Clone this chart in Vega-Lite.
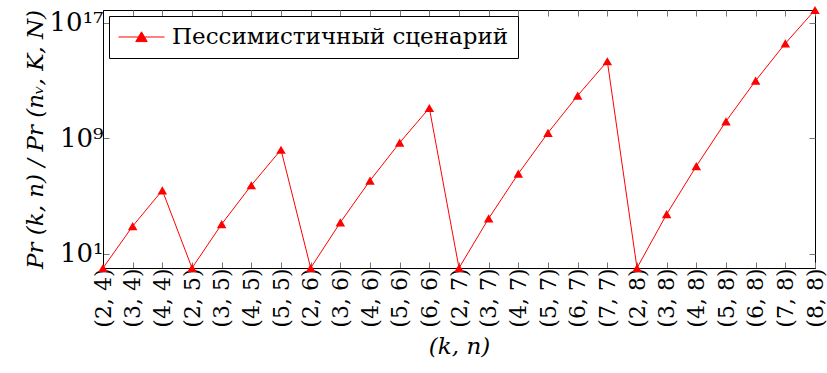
{
  "$schema": "https://vega.github.io/schema/vega-lite/v6.json",
  "width": 712,
  "height": 258,
  "autosize": {"type": "none"},
  "padding": {"left": 103, "top": 10, "right": 12, "bottom": 105},
  "config": {
    "view": {"stroke": "black", "strokeWidth": 1},
    "font": "DejaVu Serif",
    "axis": {"grid": false, "domainColor": "black", "tickColor": "#777777", "labelColor": "black", "titleColor": "black", "labelFont": "DejaVu Serif", "titleFont": "DejaVu Serif", "titleFontWeight": "normal", "tickSize": -6},
    "axisBottom": {"labelFontSize": 22, "labelAngle": 270, "labelPadding": 6, "titleFontSize": 23, "titleFontStyle": "italic", "titlePadding": 8},
    "axisLeft": {"labelFontSize": 26, "labelPadding": 6, "titleFontSize": 23, "titleFontStyle": "italic", "titlePadding": 2},
    "legend": {"labelFont": "DejaVu Serif", "labelFontSize": 23, "labelLimit": 0}
  },
  "data": {
    "values": [
      {"kn": "(2, 4)", "v": 1, "s": "Пессимистичный сценарий"},
      {"kn": "(3, 4)", "v": 794, "s": "Пессимистичный сценарий"},
      {"kn": "(4, 4)", "v": 245000, "s": "Пессимистичный сценарий"},
      {"kn": "(2, 5)", "v": 1, "s": "Пессимистичный сценарий"},
      {"kn": "(3, 5)", "v": 1100, "s": "Пессимистичный сценарий"},
      {"kn": "(4, 5)", "v": 550000, "s": "Пессимистичный сценарий"},
      {"kn": "(5, 5)", "v": 160000000, "s": "Пессимистичный сценарий"},
      {"kn": "(2, 6)", "v": 1, "s": "Пессимистичный сценарий"},
      {"kn": "(3, 6)", "v": 1450, "s": "Пессимистичный сценарий"},
      {"kn": "(4, 6)", "v": 1150000, "s": "Пессимистичный сценарий"},
      {"kn": "(5, 6)", "v": 490000000, "s": "Пессимистичный сценарий"},
      {"kn": "(6, 6)", "v": 126000000000, "s": "Пессимистичный сценарий"},
      {"kn": "(2, 7)", "v": 1, "s": "Пессимистичный сценарий"},
      {"kn": "(3, 7)", "v": 2750, "s": "Пессимистичный сценарий"},
      {"kn": "(4, 7)", "v": 3500000, "s": "Пессимистичный сценарий"},
      {"kn": "(5, 7)", "v": 2400000000, "s": "Пессимистичный сценарий"},
      {"kn": "(6, 7)", "v": 910000000000, "s": "Пессимистичный сценарий"},
      {"kn": "(7, 7)", "v": 220000000000000, "s": "Пессимистичный сценарий"},
      {"kn": "(2, 8)", "v": 1, "s": "Пессимистичный сценарий"},
      {"kn": "(3, 8)", "v": 5400, "s": "Пессимистичный сценарий"},
      {"kn": "(4, 8)", "v": 11700000, "s": "Пессимистичный сценарий"},
      {"kn": "(5, 8)", "v": 15000000000, "s": "Пессимистичный сценарий"},
      {"kn": "(6, 8)", "v": 10000000000000, "s": "Пессимистичный сценарий"},
      {"kn": "(7, 8)", "v": 3800000000000000, "s": "Пессимистичный сценарий"},
      {"kn": "(8, 8)", "v": 790000000000000000, "s": "Пессимистичный сценарий"}
    ]
  },
  "layer": [
    {
      "mark": {"type": "line", "color": "red", "strokeWidth": 1},
      "encoding": {
        "x": {"field": "kn", "type": "ordinal", "sort": null, "scale": {"type": "point", "padding": 0},
          "axis": {"orient": "bottom", "title": "(k, n)", "labelFontSize": 22, "labelAngle": 270}},
        "y": {"field": "v", "type": "quantitative", "scale": {"type": "log", "domain": [1, 790000000000000000], "nice": false},
          "axis": {"orient": "left", "values": [10, 1000000000, 100000000000000000],
            "labelExpr": "datum.value < 100 ? '10¹' : datum.value < 1e10 ? '10⁹' : '10¹⁷'",
            "labelFontSize": 26,
            "title": "Pr (k, n) / Pr (nᵥ, K, N)"}}
      }
    },
    {
      "mark": {"type": "point", "shape": "triangle-up", "filled": true, "size": 90, "opacity": 1},
      "encoding": {
        "x": {"field": "kn", "type": "ordinal", "sort": null, "scale": {"type": "point", "padding": 0},
          "axis": {"orient": "top", "labels": false, "title": null, "domain": false}},
        "y": {"field": "v", "type": "quantitative", "scale": {"type": "log", "domain": [1, 790000000000000000], "nice": false},
          "axis": {"orient": "right", "labels": false, "title": null, "domain": false, "values": [10, 1000000000, 100000000000000000]}},
        "color": {"field": "s", "type": "nominal", "scale": {"range": ["red"]},
          "legend": {"orient": "top-left", "offset": 6, "title": null, "strokeColor": "black", "fillColor": "white", "padding": 9,
            "labelFontSize": 23, "labelFont": "DejaVu Serif", "labelOffset": 30, "labelLimit": 0,
            "symbolType": "M-1,0L3,0M1,-0.45L1.5,0.4L0.5,0.4Z", "symbolSize": 529,
            "symbolFillColor": "red", "symbolStrokeColor": "red", "symbolStrokeWidth": 1, "symbolOpacity": 1}}
      }
    }
  ]
}
